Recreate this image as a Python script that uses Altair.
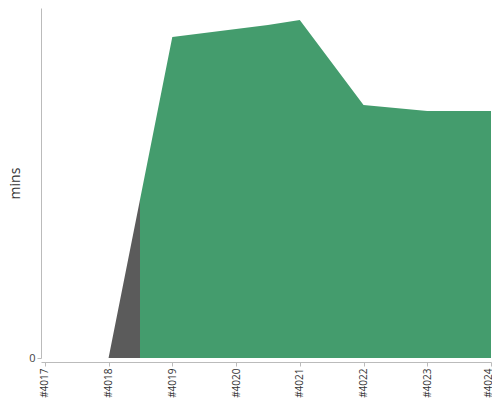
import altair as alt
import pandas as pd

# Build ticks shown on the x axis
tick_builds = [4017, 4018, 4019, 4020, 4021, 4022, 4023, 4024]

# Vertices of the duration profile (build position, minutes)
point_builds = [4018, 4019, 4020.5, 4021, 4022, 4023, 4024]
point_mins = [0, 32.1, 33.3, 33.8, 25.3, 24.7, 24.7]

GREY = "#5b5b5b"
GREEN = "#449c6d"

df = pd.DataFrame({"build": point_builds, "mins": point_mins})

# grey up to halfway between #4018 and #4019, green afterwards
split = (4018.5 - point_builds[0]) / (point_builds[-1] - point_builds[0])

fill = alt.Gradient(
    gradient="linear",
    x1=0, x2=1, y1=0, y2=0,
    stops=[
        alt.GradientStop(color=GREY, offset=0),
        alt.GradientStop(color=GREY, offset=split),
        alt.GradientStop(color=GREEN, offset=split),
        alt.GradientStop(color=GREEN, offset=1),
    ],
)

chart = (
    alt.Chart(df)
    .mark_area(color=fill, opacity=1)
    .encode(
        x=alt.X(
            "build:Q",
            scale=alt.Scale(domain=[4016.94, 4024], nice=False, zero=False),
            axis=alt.Axis(
                values=tick_builds,
                labelExpr="'#' + datum.value",
                labelAngle=-90,
                labelOffset={
                    "condition": {"test": f"datum.value == {tick_builds[-1]}", "value": -3},
                    "value": 0,
                },
                title=None,
                grid=False,
                offset=4,
                domainColor="#bbbbbb",
                tickColor="#bbbbbb",
                tickSize=4,
                labelFont="Open Sans",
                labelFontSize=10,
                labelColor="#333333",
                labelPadding=2,
            ),
        ),
        y=alt.Y(
            "mins:Q",
            scale=alt.Scale(domain=[0, 35], nice=False),
            axis=alt.Axis(
                values=[0],
                title="mins",
                titleFont="Open Sans",
                titleFontSize=14,
                titleFontWeight="normal",
                titleColor="#333333",
                titlePadding=6,
                grid=False,
                domainColor="#bbbbbb",
                tickColor="#bbbbbb",
                tickSize=4,
                labelFont="Open Sans",
                labelFontSize=11,
                labelColor="#444444",
            ),
        ),
    )
    .properties(
        width=450,
        height=350,
        autosize=alt.AutoSizeParams(type="none"),
        padding={"left": 33, "top": 0, "right": 1, "bottom": 40},
    )
    .configure_view(stroke=None)
)

chart.save("out.html", embed_options={"renderer": "svg", "actions": False})
